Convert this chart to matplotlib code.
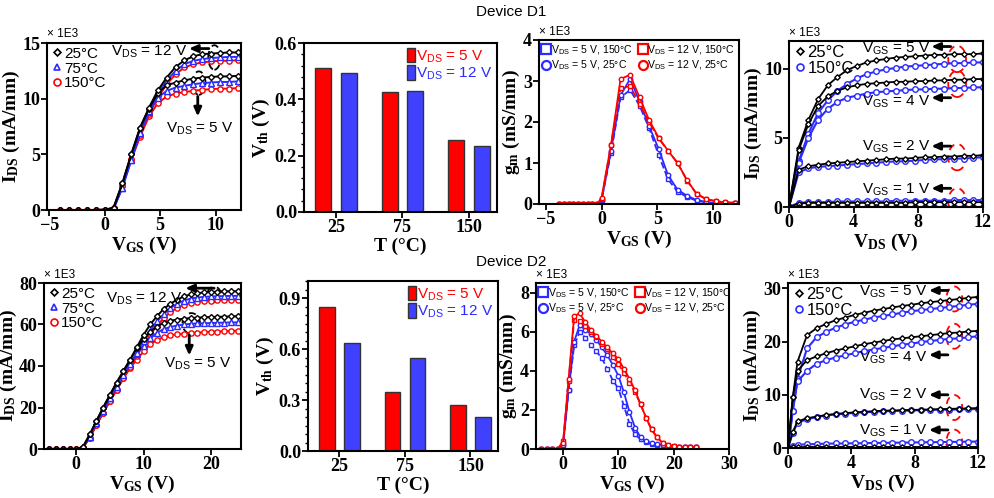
import matplotlib
matplotlib.use('Agg')
import matplotlib.pyplot as plt
from matplotlib.patches import Ellipse
from matplotlib.lines import Line2D
from matplotlib.ticker import AutoMinorLocator

plt.rcParams['font.family'] = ['Liberation Serif', 'DejaVu Serif']
plt.rcParams['font.weight'] = 'bold'
plt.rcParams['axes.labelweight'] = 'bold'
plt.rcParams['mathtext.default'] = 'regular'

RED = '#ff0000'
BLUE = '#2b2bff'
SANS = 'Liberation Sans'

# ---------------- data (values x 1E3 where the axis says so) ----------------
# Device D1 transfer curves
vgs_d1 = [-4.0, -3.2, -2.4, -1.6, -0.8, 0.0, 0.8, 1.6, 2.4, 3.2, 4.0, 4.8, 5.6, 6.4, 7.2, 8.0, 8.8, 9.6, 10.4, 11.2, 12.0]
ids_d1_25_12 = [0, 0, 0, 0, 0, 0.02, 0.2, 2.4, 5.0, 7.4, 9.2, 10.75, 11.9, 12.85, 13.45, 13.8, 14.0, 14.05, 14.1, 14.15, 14.15]
ids_d1_25_5 = [0, 0, 0, 0, 0, 0.02, 0.2, 2.4, 5.0, 7.4, 9.1, 10.5, 11.2, 11.45, 11.65, 11.8, 11.9, 11.95, 12.0, 12.0, 12.05]
ids_d1_75_12 = [0, 0, 0, 0, 0, 0.02, 0.1, 2.0, 4.5, 6.9, 8.9, 10.5, 11.6, 12.5, 13.1, 13.4, 13.55, 13.65, 13.7, 13.75, 13.75]
ids_d1_75_5 = [0, 0, 0, 0, 0, 0.02, 0.1, 2.0, 4.5, 6.9, 8.8, 10.1, 10.7, 11.0, 11.15, 11.3, 11.4, 11.45, 11.5, 11.5, 11.55]
ids_d1_150_12 = [0, 0, 0, 0, 0, 0.02, 0.15, 2.2, 4.6, 6.7, 8.6, 10.1, 11.3, 12.2, 12.8, 13.1, 13.25, 13.35, 13.4, 13.4, 13.45]
ids_d1_150_5 = [0, 0, 0, 0, 0, 0.02, 0.15, 2.2, 4.5, 6.6, 8.4, 9.6, 10.2, 10.45, 10.6, 10.7, 10.8, 10.85, 10.9, 10.9, 10.95]

# Device D2 transfer curves
vgs_d2 = [-4, -3, -2, -1, 0, 1, 2, 3, 4, 5, 6, 7, 8, 9, 10, 11, 12, 13, 14, 15, 16, 17, 18, 19, 20, 21, 22, 23, 24]
ids_d2_25_12 = [0, 0, 0, 0, 0, 1.0, 7, 13.5, 20, 26, 32, 37.5, 43, 49, 55, 60, 64, 67.5, 70, 72, 73.5, 74.5, 75, 75.5, 75.7, 75.8, 76, 76, 76]
ids_d2_25_5 = [0, 0, 0, 0, 0, 1.0, 7, 13.5, 20, 26, 32, 37.5, 43, 48.5, 53, 56.5, 59, 60.8, 61.8, 62.4, 62.8, 63.1, 63.3, 63.5, 63.6, 63.7, 63.8, 63.9, 64]
ids_d2_75_12 = [0, 0, 0, 0, 0, 0.8, 6, 12.5, 18.5, 24.5, 30, 35.5, 41, 46.5, 52, 57, 61.5, 65, 68, 70, 71.5, 72.5, 73, 73.3, 73.5, 73.6, 73.7, 73.8, 73.8]
ids_d2_75_5 = [0, 0, 0, 0, 0, 0.8, 6, 12.5, 18.5, 24.5, 30, 35.5, 41, 46, 49.5, 53.5, 56, 57.8, 58.8, 59.5, 60, 60.3, 60.5, 60.6, 60.7, 60.8, 60.9, 61, 61]
ids_d2_150_12 = [0, 0, 0, 0, 0, 0.6, 5.5, 11.5, 17.5, 23, 28.5, 34, 39.5, 45, 50, 55, 59.5, 63, 66, 68, 69.5, 70.3, 71, 71.3, 71.5, 71.7, 71.8, 71.9, 72]
ids_d2_150_5 = [0, 0, 0, 0, 0, 0.6, 5.5, 11.5, 17.5, 23, 28.5, 34, 39, 43, 47, 50.5, 52.5, 54, 54.8, 55.3, 55.6, 55.9, 56.1, 56.3, 56.5, 56.6, 56.8, 56.9, 57]

# Threshold voltage bars
temps = ['25', '75', '150']
vth_d1_5v = [0.51, 0.425, 0.255]
vth_d1_12v = [0.495, 0.43, 0.235]
vth_d2_5v = [0.845, 0.35, 0.27]
vth_d2_12v = [0.635, 0.545, 0.2]

# Transconductance D1
vgs_gm_d1 = [-3.8, -3.4, -2.95, -2.55, -2.1, -1.7, -1.25, -0.85, -0.4, 0.0, 0.85, 1.7, 2.55, 3.4, 4.25, 5.1, 5.95, 6.8, 7.65, 8.5, 9.35, 10.2, 11.05, 11.9]
gm_d1_5_150 = [0, 0, 0, 0, 0, 0, 0, 0, 0, 0.1, 1.25, 2.6, 2.78, 2.4, 1.85, 1.2, 0.6, 0.3, 0.17, 0.08, 0.04, 0.02, 0.02, 0.02]
gm_d1_5_25 = [0, 0, 0, 0, 0, 0, 0, 0, 0, 0.1, 1.3, 2.65, 3.05, 2.5, 1.9, 1.35, 0.7, 0.35, 0.2, 0.1, 0.05, 0.02, 0.02, 0.02]
gm_d1_12_150 = [0, 0, 0, 0, 0, 0, 0, 0, 0, 0.12, 1.45, 2.83, 2.87, 2.45, 2.0, 1.6, 1.3, 1.0, 0.57, 0.25, 0.12, 0.07, 0.04, 0.03]
gm_d1_12_25 = [0, 0, 0, 0, 0, 0, 0, 0, 0, 0.15, 1.45, 3.05, 3.15, 2.6, 2.05, 1.62, 1.3, 1.0, 0.58, 0.25, 0.12, 0.07, 0.04, 0.03]

# Transconductance D2
vgs_gm_d2 = [-4, -3, -2, -1, 0, 1, 2, 3, 4, 5, 6, 7, 8, 9, 10, 11, 12, 13, 14, 15, 16, 17, 18, 19, 20, 21, 22, 23, 24]
gm_d2_5_150 = [0, 0, 0, 0, 0.2, 3.0, 5.3, 6.0, 5.7, 5.35, 5.0, 4.65, 4.1, 3.5, 3.1, 2.2, 1.3, 0.75, 0.5, 0.35, 0.25, 0.2, 0.15, 0.1, 0.1, 0.1, 0.1, 0.1, 0.1]
gm_d2_5_25 = [0, 0, 0, 0, 0.2, 3.0, 5.5, 6.35, 6.1, 5.9, 5.6, 5.2, 4.8, 4.3, 3.75, 2.9, 1.9, 1.1, 0.6, 0.4, 0.3, 0.25, 0.2, 0.15, 0.1, 0.1, 0.1, 0.1, 0.1]
gm_d2_12_150 = [0, 0, 0, 0, 0.4, 3.5, 6.6, 6.55, 6.3, 6.0, 5.75, 5.4, 5.1, 4.7, 4.35, 3.9, 3.4, 2.9, 2.3, 1.6, 1.0, 0.6, 0.3, 0.2, 0.15, 0.12, 0.1, 0.1, 0.1]
gm_d2_12_25 = [0, 0, 0, 0, 0.3, 3.6, 6.8, 6.95, 6.5, 6.1, 5.8, 5.5, 5.2, 4.9, 4.6, 4.1, 3.6, 3.0, 2.3, 1.6, 1.0, 0.6, 0.3, 0.2, 0.15, 0.12, 0.1, 0.1, 0.1]

# Output curves D1
vds_d1 = [0.0, 0.6, 1.2, 1.8, 2.4, 3.0, 3.6, 4.2, 4.8, 5.4, 6.0, 6.6, 7.2, 7.8, 8.4, 9.0, 9.6, 10.2, 10.8, 11.4, 12.0]
out_d1_25 = {
    5: [0, 4.3, 6.3, 7.8, 8.8, 9.4, 9.9, 10.2, 10.45, 10.6, 10.7, 10.8, 10.85, 10.9, 10.95, 11.0, 11.0, 11.05, 11.05, 11.05, 11.1],
    4: [0, 4.1, 6.0, 7.3, 8.0, 8.4, 8.65, 8.8, 8.9, 8.95, 9.0, 9.05, 9.05, 9.1, 9.1, 9.15, 9.15, 9.2, 9.2, 9.25, 9.25],
    2: [0, 2.7, 2.95, 3.05, 3.15, 3.2, 3.25, 3.3, 3.35, 3.4, 3.45, 3.5, 3.5, 3.55, 3.6, 3.6, 3.65, 3.65, 3.7, 3.7, 3.75],
    1: [0, 0.25, 0.3, 0.3, 0.3, 0.3, 0.3, 0.3, 0.3, 0.3, 0.3, 0.3, 0.3, 0.35, 0.35, 0.35, 0.35, 0.35, 0.35, 0.35, 0.35],
    0: [0, 0, 0, 0, 0, 0, 0, 0, 0, 0, 0, 0, 0, 0, 0, 0, 0, 0, 0, 0, 0],
}
out_d1_150 = {
    5: [0, 3.3, 5.3, 6.8, 7.7, 8.4, 8.9, 9.3, 9.6, 9.8, 9.95, 10.05, 10.15, 10.2, 10.25, 10.3, 10.35, 10.4, 10.4, 10.45, 10.45],
    4: [0, 3.2, 5.0, 6.3, 7.1, 7.6, 7.9, 8.05, 8.2, 8.3, 8.35, 8.4, 8.45, 8.5, 8.5, 8.55, 8.55, 8.6, 8.6, 8.65, 8.65],
    2: [0, 2.5, 2.8, 2.9, 2.95, 3.0, 3.05, 3.1, 3.15, 3.2, 3.25, 3.3, 3.3, 3.35, 3.4, 3.45, 3.45, 3.5, 3.5, 3.55, 3.6],
    1: [0, 0.3, 0.35, 0.35, 0.35, 0.4, 0.4, 0.4, 0.4, 0.4, 0.4, 0.45, 0.45, 0.45, 0.45, 0.45, 0.45, 0.5, 0.5, 0.5, 0.5],
    0: [0, 0, 0, 0, 0, 0, 0, 0, 0, 0, 0, 0, 0, 0, 0, 0, 0, 0, 0, 0, 0],
}

# Output curves D2
vds_d2 = [0.0, 0.3, 0.6, 1.2, 1.8, 2.4, 3.0, 3.6, 4.2, 4.8, 5.4, 6.0, 6.6, 7.2, 7.8, 8.4, 9.0, 9.6, 10.2, 10.8, 11.4, 12.0]
out_d2_25 = {
    5: [0, 9.5, 16.2, 21.2, 22.5, 23.3, 24.0, 24.5, 25.0, 25.4, 25.8, 26.1, 26.4, 26.7, 26.9, 27.2, 27.4, 27.6, 27.8, 28.0, 28.2, 28.4],
    4: [0, 9.5, 14.5, 16.5, 17.2, 17.8, 18.3, 18.7, 19.1, 19.5, 19.8, 20.1, 20.4, 20.6, 20.8, 21.0, 21.2, 21.4, 21.6, 21.7, 21.9, 22.0],
    2: [0, 3.0, 5.0, 5.6, 5.9, 6.2, 6.4, 6.55, 6.7, 6.8, 6.9, 7.0, 7.05, 7.1, 7.15, 7.2, 7.25, 7.3, 7.35, 7.4, 7.45, 7.5],
    1: [0, 0.1, 0.15, 0.2, 0.2, 0.2, 0.2, 0.2, 0.2, 0.2, 0.2, 0.2, 0.2, 0.2, 0.2, 0.2, 0.2, 0.2, 0.2, 0.2, 0.2, 0.2],
}
out_d2_150 = {
    5: [0, 7.0, 13.0, 18.7, 20.8, 21.8, 22.6, 23.2, 23.7, 24.1, 24.5, 24.8, 25.1, 25.4, 25.7, 25.9, 26.1, 26.3, 26.5, 26.7, 26.9, 27.1],
    4: [0, 7.0, 12.5, 14.5, 15.8, 16.5, 17.0, 17.4, 17.8, 18.2, 18.5, 18.8, 19.1, 19.4, 19.6, 19.9, 20.1, 20.3, 20.5, 20.6, 20.8, 21.0],
    2: [0, 2.8, 4.7, 5.4, 5.8, 6.1, 6.3, 6.45, 6.6, 6.7, 6.8, 6.9, 6.95, 7.0, 7.05, 7.1, 7.15, 7.2, 7.2, 7.25, 7.3, 7.3],
    1: [0, 0.4, 0.6, 0.7, 0.75, 0.8, 0.85, 0.85, 0.9, 0.9, 0.95, 0.95, 1.0, 1.0, 1.05, 1.05, 1.1, 1.1, 1.15, 1.15, 1.2, 1.2],
}

# ---------------- figure ----------------
fig = plt.figure(figsize=(9.95, 4.98), dpi=100)


def add_axes(l, r, t, b):
    # pixel box of the axes -> figure fraction
    return fig.add_axes([l / 995, 1 - b / 498, (r - l) / 995, (b - t) / 498])


def style(ax):
    for s in ax.spines.values():
        s.set_linewidth(1.5)
    ax.tick_params(direction='out', length=4, width=1.3, labelsize=13, pad=1)
    ax.tick_params(which='minor', direction='out', length=2.5, width=1)


def e3(ax):
    ax.text(0.0, 1.015, '× 1E3', transform=ax.transAxes, family=SANS,
            weight='normal', fontsize=8.5, ha='left', va='bottom')


def curve(ax, x, y, color, marker, ls='-', ms=3.5, lw=1.4):
    ax.plot(x, y, color=color, ls=ls, lw=lw, marker=marker, ms=ms,
            mfc='white', mec=color, mew=1.0)


def label(ax, x, y, text, size=11, color='k', ha='left'):
    ax.text(x, y, text, family=SANS, weight='normal', fontsize=size,
            color=color, ha=ha, va='center')


def arrow(ax, tail, head):
    ax.annotate('', xy=head, xytext=tail,
                arrowprops=dict(arrowstyle='-|>,head_length=0.5,head_width=0.22',
                                color='k', lw=2, shrinkA=0, shrinkB=0))


def ring(ax, xy, w, h, color):
    ax.add_patch(Ellipse(xy, w, h, fill=False, ls=(0, (4, 3)), ec=color, lw=1.3))


def temp_legend(ax, entries, labels, size):
    handles = [Line2D([], [], ls='none', marker=m, color=c, mfc='white', mec=c,
                      mew=1.2, ms=ms) for m, c, ms in entries]
    ax.legend(handles, labels, loc='upper left', frameon=False,
              prop=dict(family=SANS, size=size, weight='normal'),
              handletextpad=0.05, handlelength=0.8, labelspacing=0.05,
              borderaxespad=0.1, borderpad=0.15)


def transfer(ax, x, data, xlim, xticks, ylim, yticks):
    for (y12, y5, color, marker) in data:
        ms = 3 if marker == 'D' else 3.8
        curve(ax, x, y5, color, marker, ms=ms)
        curve(ax, x, y12, color, marker, ms=ms)
    ax.set_xlim(*xlim)
    ax.set_xticks(xticks)
    ax.set_ylim(*ylim)
    ax.set_yticks(yticks)
    ax.set_xlabel(r'$\mathregular{V_{GS}}$ (V)', fontsize=14, labelpad=1)
    ax.set_ylabel(r'$\mathregular{I_{DS}}$ (mA/mm)', fontsize=14, labelpad=0)
    style(ax)
    e3(ax)
    temp_legend(ax, [('D', 'k', 3.5), ('^', BLUE, 4.5), ('o', RED, 5)],
                ['25°C', '75°C', '150°C'], 11)


def bars(ax, v5, v12, ylim, yticks, minor):
    pos = range(len(temps))
    b5 = ax.bar([p - 0.19 for p in pos], v5, width=0.24, color=RED, ec='#333333', lw=1)
    b12 = ax.bar([p + 0.19 for p in pos], v12, width=0.24, color='#4040ff', ec='#333333', lw=1)
    ax.set_xticks(list(pos))
    ax.set_xticklabels(temps)
    ax.set_xlim(-0.48, 2.42)
    ax.set_ylim(*ylim)
    ax.set_yticks(yticks)
    ax.yaxis.set_minor_locator(AutoMinorLocator(minor))
    ax.set_xlabel('T (°C)', fontsize=14, labelpad=1)
    ax.set_ylabel(r'$\mathregular{V_{th}}$ (V)', fontsize=14, labelpad=2)
    style(ax)
    ax.legend([b5, b12], [r'$\mathregular{V_{DS}}$ = 5 V', r'$\mathregular{V_{DS}}$ = 12 V'],
              loc='upper right', frameon=False, labelcolor=[RED, BLUE],
              prop=dict(family=SANS, size=11, weight='normal'),
              handlelength=0.5, handleheight=1.1, handletextpad=0.1,
              labelspacing=0.05, borderaxespad=0.1, borderpad=0.2)


def gm(ax, x, s5_150, s5_25, s12_150, s12_25, xlim, xticks, ylim, yticks):
    curve(ax, x, s5_150, BLUE, 's', ls='--', ms=3.2, lw=1.3)
    curve(ax, x, s5_25, BLUE, 'o', ms=3.2, lw=1.3)
    curve(ax, x, s12_150, RED, 's', ls='--', ms=3.2, lw=1.3)
    curve(ax, x, s12_25, RED, 'o', ms=3.2, lw=1.3)
    ax.set_xlim(*xlim)
    ax.set_xticks(xticks)
    ax.set_ylim(*ylim)
    ax.set_yticks(yticks)
    ax.set_xlabel(r'$\mathregular{V_{GS}}$ (V)', fontsize=14, labelpad=1)
    ax.set_ylabel(r'$\mathregular{g_m}$ (mS/mm)', fontsize=14, labelpad=1)
    style(ax)
    e3(ax)
    handles = [Line2D([], [], ls='none', marker=m, color=c, mfc='white', mec=c,
                      mew=1.6, ms=6.5)
               for m, c in [('s', BLUE), ('o', BLUE), ('s', RED), ('o', RED)]]
    labels = [r'$\mathregular{V_{DS}}$ = 5 V, 150°C', r'$\mathregular{V_{DS}}$ = 5 V, 25°C',
              r'$\mathregular{V_{DS}}$ = 12 V, 150°C', r'$\mathregular{V_{DS}}$ = 12 V, 25°C']
    ax.legend(handles, labels, ncol=2, loc='upper left', frameon=False,
              prop=dict(family=SANS, size=7.6, weight='normal'),
              handletextpad=0.05, handlelength=0.8, columnspacing=0.5,
              labelspacing=0.2, borderaxespad=0.1, borderpad=0.2)


def output(ax, x, d25, d150, ylim, yticks):
    for k in d150:
        curve(ax, x, d150[k], BLUE, 'o', ms=4, lw=1.5)
    for k in d25:
        curve(ax, x, d25[k], 'k', 'D', ms=2.8, lw=1.3)
    ax.set_xlim(0, 12)
    ax.set_xticks([0, 4, 8, 12])
    ax.set_ylim(*ylim)
    ax.set_yticks(yticks)
    ax.set_xlabel(r'$\mathregular{V_{DS}}$ (V)', fontsize=14, labelpad=1)
    ax.set_ylabel(r'$\mathregular{I_{DS}}$ (mA/mm)', fontsize=14, labelpad=0)
    style(ax)
    e3(ax)
    temp_legend(ax, [('D', 'k', 3.5), ('o', BLUE, 5)], ['25°C', '150°C'], 12)


# ---- Device D1 ----
ax1 = add_axes(47, 241, 43, 210)
transfer(ax1, vgs_d1,
         [(ids_d1_150_12, ids_d1_150_5, RED, 'o'),
          (ids_d1_75_12, ids_d1_75_5, BLUE, '^'),
          (ids_d1_25_12, ids_d1_25_5, 'k', 'D')],
         (-5.2, 12.3), [-5, 0, 5, 10], (0, 15), [0, 5, 10, 15])
label(ax1, 0.6, 14.2, r'$\mathregular{V_{DS}}$ = 12 V')
arrow(ax1, (9.4, 14.5), (7.6, 14.5))
ring(ax1, (9.9, 13.7), 1.1, 2.2, 'k')
ring(ax1, (8.5, 11.4), 1.2, 2.1, 'k')
arrow(ax1, (8.4, 10.2), (8.4, 8.4))
label(ax1, 5.5, 7.3, r'$\mathregular{V_{DS}}$ = 5 V')

ax2 = add_axes(304, 497, 43, 212)
bars(ax2, vth_d1_5v, vth_d1_12v, (0, 0.6), [0.0, 0.2, 0.4, 0.6], 5)
ax2.set_yticklabels(['0.0', '0.2', '0.4', '0.6'])

ax3 = add_axes(539, 739, 40, 204)
gm(ax3, vgs_gm_d1, gm_d1_5_150, gm_d1_5_25, gm_d1_12_150, gm_d1_12_25,
   (-5.6, 12.3), [-5, 0, 5, 10], (0, 4), [0, 1, 2, 3, 4])

ax4 = add_axes(789, 983, 41, 207)
output(ax4, vds_d1, out_d1_25, out_d1_150, (0, 12), [0, 5, 10])
for y_txt, y_arr, y_ring, v in [(11.45, 11.6, 10.7, 5), (7.6, 7.9, 8.9, 4),
                                (4.35, 4.4, 3.6, 2), (1.25, 1.35, 0.4, 1)]:
    label(ax4, 4.5, y_txt, r'$\mathregular{V_{GS}}$ = %d V' % v)
    arrow(ax4, (10.0, y_arr), (8.8, y_arr))
    ring(ax4, (10.4, y_ring), 1.1, 1.9, RED)

# ---- Device D2 ----
ax5 = add_axes(44, 241, 283, 449)
transfer(ax5, vgs_d2,
         [(ids_d2_150_12, ids_d2_150_5, RED, 'o'),
          (ids_d2_75_12, ids_d2_75_5, BLUE, '^'),
          (ids_d2_25_12, ids_d2_25_5, 'k', 'D')],
         (-4.8, 24.5), [0, 10, 20], (0, 80), [0, 20, 40, 60, 80])
label(ax5, 4.4, 72.5, r'$\mathregular{V_{DS}}$ = 12 V')
arrow(ax5, (20.5, 77.5), (16.2, 77.5))
ring(ax5, (20.5, 74.5), 2.0, 7.5, 'k')
ring(ax5, (17.1, 60.5), 2.6, 10, 'k')
arrow(ax5, (16.8, 55), (16.8, 45))
label(ax5, 13.0, 41, r'$\mathregular{V_{DS}}$ = 5 V')

ax6 = add_axes(308, 498, 281, 451)
bars(ax6, vth_d2_5v, vth_d2_12v, (0, 1.0), [0.0, 0.3, 0.6, 0.9], 6)
ax6.set_yticklabels(['0.0', '0.3', '0.6', '0.9'])

ax7 = add_axes(536, 729, 283, 449)
gm(ax7, vgs_gm_d2, gm_d2_5_150, gm_d2_5_25, gm_d2_12_150, gm_d2_12_25,
   (-4.9, 30), [0, 10, 20, 30], (0, 8.5), [0, 2, 4, 6, 8])

ax8 = add_axes(788, 978, 283, 448)
output(ax8, vds_d2, out_d2_25, out_d2_150, (0, 31), [0, 10, 20, 30])
for y_txt, y_arr, y_ring, v in [(29.4, 29.6, 28.0, 5), (16.9, 17.5, 21.0, 4),
                                (10.0, 10.0, 7.6, 2), (3.3, 3.4, 1.1, 1)]:
    label(ax8, 4.5, y_txt, r'$\mathregular{V_{GS}}$ = %d V' % v)
    arrow(ax8, (10.1, y_arr), (8.9, y_arr))
    ring(ax8, (10.5, y_ring), 1.0, 4.7, RED)

fig.text(0.514, 0.976, 'Device D1', family=SANS, weight='normal', fontsize=11,
         ha='center', va='center')
fig.text(0.514, 0.474, 'Device D2', family=SANS, weight='normal', fontsize=11,
         ha='center', va='center')

fig.savefig('out.png', dpi=100)
